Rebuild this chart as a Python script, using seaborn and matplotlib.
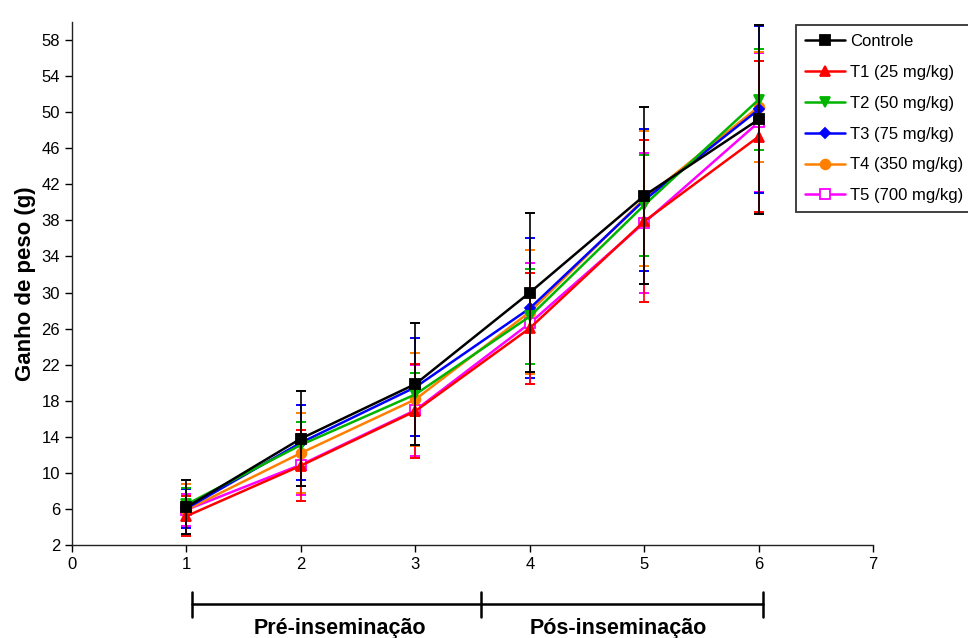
import matplotlib
matplotlib.use("Agg")
import matplotlib.pyplot as plt
import seaborn as sns
import pandas as pd

# semanas de avaliacao
semanas = [1, 2, 3, 4, 5, 6]

# medias e desvios
controle = [6.2, 13.8, 19.85, 30.0, 40.75, 49.2]
controle_sd = [3.0, 5.3, 6.8, 8.8, 9.85, 10.5]
t1 = [5.2, 10.8, 16.85, 26.05, 37.9, 47.3]
t1_sd = [2.2, 3.9, 5.25, 6.15, 9.0, 8.35]
t2 = [6.5, 13.1, 18.7, 27.35, 39.7, 51.4]
t2_sd = [1.8, 2.5, 2.4, 5.25, 5.6, 5.65]
t3 = [6.05, 13.35, 19.5, 28.25, 40.25, 50.3]
t3_sd = [2.15, 4.15, 5.4, 7.75, 7.85, 9.3]
t4 = [5.9, 12.2, 18.15, 27.85, 40.4, 50.6]
t4_sd = [2.9, 4.4, 5.15, 6.85, 7.5, 6.1]
t5 = [5.9, 10.9, 16.95, 26.6, 37.75, 48.9]
t5_sd = [1.8, 3.4, 5.05, 6.7, 7.75, 7.7]

labels = ["Controle", "T1 (25 mg/kg)", "T2 (50 mg/kg)", "T3 (75 mg/kg)",
          "T4 (350 mg/kg)", "T5 (700 mg/kg)"]
medias = [controle, t1, t2, t3, t4, t5]
desvios = [controle_sd, t1_sd, t2_sd, t3_sd, t4_sd, t5_sd]

cores = ["#000000", "#ff0000", "#00b400", "#0000ff", "#ff8000", "#ff00ff"]
marcadores = ["s", "^", "v", "D", "o", "s"]
tamanhos = [7, 7, 7, 5.5, 7, 7]

sns.set_style("ticks")
plt.rcParams["font.family"] = ["Liberation Sans", "DejaVu Sans"]
plt.rcParams["text.color"] = "black"
plt.rcParams["axes.labelcolor"] = "black"

fig = plt.figure(figsize=(9.68, 6.38), dpi=100)
ax = fig.add_axes([0.0744, 0.1458, 0.8277, 0.8197])

# desenha de tras pra frente, controle por cima
for i in reversed(range(len(labels))):
    df = pd.DataFrame({"semana": semanas, "ganho": medias[i]})
    face = "white" if i == 5 else cores[i]
    sns.lineplot(data=df, x="semana", y="ganho", ax=ax, color=cores[i],
                 marker=marcadores[i], markersize=tamanhos[i],
                 markerfacecolor=face, markeredgecolor=cores[i],
                 markeredgewidth=1.3, linewidth=1.8, label=labels[i],
                 zorder=10 - i)
    ax.errorbar(semanas, medias[i], yerr=desvios[i], fmt="none",
                ecolor=cores[i], elinewidth=1.2, capsize=3.3, capthick=1.4,
                zorder=10 - i)

ax.set_xlim(0, 7)
ax.set_ylim(2, 60)
ax.set_xticks(range(0, 8))
ax.set_yticks(range(2, 59, 4))
ax.tick_params(axis="both", labelsize=12, direction="out", length=5, width=1,
               colors="black")
ax.set_xlabel("")
ax.set_ylabel("Ganho de peso (g)", fontsize=16, fontweight="bold", labelpad=4)
sns.despine(ax=ax)
for s in ["left", "bottom"]:
    ax.spines[s].set_color("#222222")
    ax.spines[s].set_linewidth(1)

# legenda
handles, labs = ax.get_legend_handles_labels()
ordem = [labs.index(l) for l in labels]
if ax.get_legend():
    ax.get_legend().remove()
leg = fig.legend([handles[k] for k in ordem], labels, loc="upper left",
                 bbox_to_anchor=(796 / 968, 1 - 25 / 638), borderaxespad=0,
                 fontsize=12, frameon=True, fancybox=False, edgecolor="black",
                 handlelength=2.4, handletextpad=0.3, labelspacing=0.95,
                 borderpad=0.55, numpoints=1)
leg.get_frame().set_linewidth(1.3)

# periodos abaixo do eixo x
trans = ax.get_xaxis_transform()
ax.plot([1.05, 6.04], [-0.113, -0.113], color="black", lw=1.8,
        transform=trans, clip_on=False)
for xp in [1.05, 3.57, 6.04]:
    ax.plot([xp, xp], [-0.09, -0.138], color="black", lw=1.8,
            transform=trans, clip_on=False)
ax.text(2.34, -0.16, "Pré-inseminação", transform=trans, ha="center",
        va="center", fontsize=15.5, fontweight="bold")
ax.text(4.77, -0.16, "Pós-inseminação", transform=trans, ha="center",
        va="center", fontsize=15.5, fontweight="bold")

fig.savefig("out.png", dpi=100)
